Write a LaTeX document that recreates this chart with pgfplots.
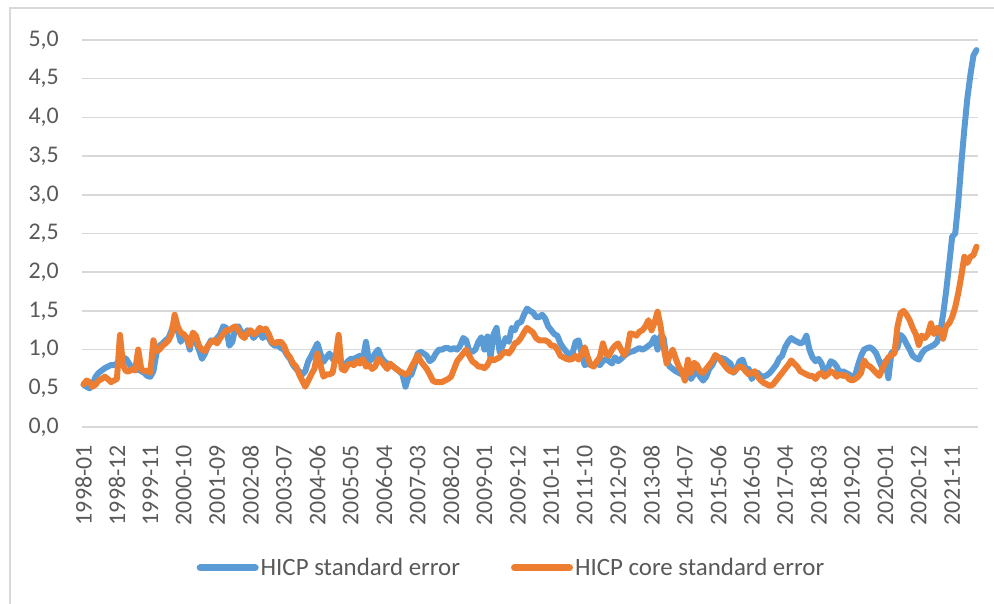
\documentclass[border=0pt]{standalone}
\usepackage{fontspec}
\setmainfont{Carlito}
\usepackage{pgfplots}
\usepackage{pgfplotstable}
\pgfplotsset{compat=1.18}
\definecolor{sblue}{HTML}{5B9BD5}
\definecolor{sorange}{HTML}{ED7D31}
\definecolor{gridgray}{HTML}{D9D9D9}
\definecolor{labelgray}{HTML}{595959}

\pgfplotstableread[row sep=\\]{
b c\\
0.55 0.55\\ 0.52 0.60\\ 0.50 0.58\\ 0.55 0.52\\ 0.65 0.55\\ 0.70 0.60\\ 0.73 0.62\\ 0.76 0.65\\ 0.78 0.62\\ 0.80 0.58\\ 0.80 0.60\\ 0.82 0.62\\
0.85 1.19\\ 0.90 0.80\\ 0.88 0.72\\ 0.82 0.72\\ 0.75 0.75\\ 0.73 0.73\\ 0.75 1.00\\ 0.72 0.75\\ 0.70 0.72\\ 0.66 0.73\\ 0.65 0.70\\ 0.72 1.12\\
0.95 0.98\\ 1.05 1.00\\ 1.08 1.05\\ 1.12 1.08\\ 1.15 1.12\\ 1.25 1.20\\ 1.38 1.45\\ 1.25 1.30\\ 1.10 1.22\\ 1.18 1.20\\ 1.15 1.15\\ 1.00 1.05\\
1.20 1.22\\ 1.10 1.18\\ 1.00 1.05\\ 0.88 1.00\\ 0.95 0.98\\ 1.05 1.05\\ 1.12 1.10\\ 1.10 1.12\\ 1.15 1.08\\ 1.20 1.15\\ 1.30 1.20\\ 1.28 1.25\\
1.05 1.25\\ 1.10 1.28\\ 1.28 1.30\\ 1.30 1.25\\ 1.22 1.18\\ 1.20 1.15\\ 1.25 1.22\\ 1.22 1.25\\ 1.15 1.20\\ 1.20 1.22\\ 1.22 1.28\\ 1.15 1.25\\
1.20 1.27\\ 1.15 1.20\\ 1.08 1.10\\ 1.05 1.08\\ 1.05 1.10\\ 1.02 1.10\\ 1.00 1.05\\ 0.93 0.95\\ 0.88 0.90\\ 0.80 0.82\\ 0.75 0.78\\ 0.72 0.68\\
0.68 0.60\\ 0.72 0.52\\ 0.85 0.60\\ 0.92 0.68\\ 1.00 0.75\\ 1.08 0.95\\ 0.95 0.80\\ 0.84 0.65\\ 0.90 0.68\\ 0.95 0.68\\ 0.88 0.70\\ 0.85 0.90\\
0.90 1.19\\ 0.82 0.75\\ 0.80 0.73\\ 0.85 0.80\\ 0.88 0.82\\ 0.88 0.80\\ 0.90 0.85\\ 0.92 0.82\\ 0.88 0.88\\ 1.10 0.78\\ 0.85 0.80\\ 0.88 0.75\\
0.95 0.78\\ 1.00 0.88\\ 0.90 0.85\\ 0.85 0.80\\ 0.82 0.75\\ 0.80 0.82\\ 0.78 0.78\\ 0.75 0.75\\ 0.72 0.72\\ 0.68 0.70\\ 0.52 0.68\\ 0.65 0.70\\
0.68 0.78\\ 0.80 0.85\\ 0.95 0.93\\ 0.97 0.85\\ 0.95 0.80\\ 0.92 0.75\\ 0.85 0.68\\ 0.88 0.60\\ 0.95 0.58\\ 1.00 0.58\\ 1.00 0.58\\ 1.02 0.60\\
1.02 0.62\\ 1.00 0.65\\ 1.02 0.75\\ 1.00 0.85\\ 1.05 0.90\\ 1.15 0.95\\ 1.12 1.00\\ 0.98 0.92\\ 0.97 0.85\\ 1.00 0.82\\ 1.10 0.78\\ 1.16 0.78\\
1.00 0.76\\ 1.17 0.80\\ 0.90 0.88\\ 1.20 0.86\\ 1.28 0.88\\ 0.97 0.90\\ 1.05 0.95\\ 1.15 0.97\\ 1.10 0.95\\ 1.28 1.00\\ 1.25 1.08\\ 1.35 1.10\\
1.35 1.15\\ 1.45 1.22\\ 1.53 1.28\\ 1.50 1.25\\ 1.48 1.22\\ 1.42 1.15\\ 1.42 1.12\\ 1.45 1.12\\ 1.40 1.12\\ 1.30 1.10\\ 1.25 1.05\\ 1.20 1.05\\
1.18 1.00\\ 1.08 0.92\\ 1.02 0.90\\ 0.97 0.88\\ 0.93 0.87\\ 0.95 0.88\\ 1.10 0.92\\ 1.12 0.87\\ 0.95 0.95\\ 0.80 1.03\\ 0.82 0.90\\ 0.80 0.80\\
0.80 0.78\\ 0.82 0.85\\ 0.80 0.90\\ 0.85 1.08\\ 0.88 0.95\\ 0.85 0.92\\ 0.82 1.00\\ 0.90 1.05\\ 0.85 1.08\\ 0.88 1.00\\ 0.92 0.93\\ 0.95 1.00\\
0.97 1.21\\ 0.98 1.20\\ 1.00 1.18\\ 1.02 1.23\\ 1.00 1.25\\ 1.02 1.30\\ 1.05 1.38\\ 1.08 1.25\\ 1.16 1.35\\ 1.00 1.49\\ 1.18 1.30\\ 1.15 1.03\\
0.85 0.82\\ 0.78 0.92\\ 0.75 1.00\\ 0.72 0.88\\ 0.70 0.78\\ 0.68 0.72\\ 0.65 0.60\\ 0.72 0.87\\ 0.62 0.70\\ 0.68 0.83\\ 0.72 0.80\\ 0.65 0.72\\
0.60 0.70\\ 0.65 0.75\\ 0.75 0.80\\ 0.80 0.85\\ 0.88 0.93\\ 0.90 0.90\\ 0.89 0.85\\ 0.88 0.80\\ 0.85 0.75\\ 0.82 0.72\\ 0.70 0.71\\ 0.75 0.75\\
0.85 0.78\\ 0.87 0.77\\ 0.75 0.72\\ 0.75 0.68\\ 0.62 0.70\\ 0.68 0.72\\ 0.70 0.65\\ 0.66 0.60\\ 0.65 0.57\\ 0.67 0.55\\ 0.70 0.53\\ 0.75 0.55\\
0.80 0.60\\ 0.88 0.65\\ 0.92 0.70\\ 1.03 0.75\\ 1.10 0.80\\ 1.15 0.86\\ 1.12 0.82\\ 1.10 0.78\\ 1.08 0.72\\ 1.10 0.70\\ 1.18 0.68\\ 1.00 0.66\\
0.90 0.66\\ 0.85 0.62\\ 0.88 0.68\\ 0.82 0.70\\ 0.70 0.65\\ 0.75 0.68\\ 0.85 0.72\\ 0.83 0.70\\ 0.78 0.65\\ 0.70 0.68\\ 0.72 0.66\\ 0.70 0.67\\
0.68 0.62\\ 0.65 0.60\\ 0.66 0.62\\ 0.80 0.65\\ 0.92 0.70\\ 1.00 0.86\\ 1.02 0.80\\ 1.03 0.78\\ 1.00 0.74\\ 0.95 0.70\\ 0.85 0.66\\ 0.76 0.75\\
0.85 0.83\\ 0.63 0.90\\ 0.96 0.93\\ 0.98 0.95\\ 1.03 1.30\\ 1.19 1.47\\ 1.15 1.50\\ 1.07 1.45\\ 1.00 1.38\\ 0.92 1.28\\ 0.89 1.20\\ 0.87 1.06\\
0.95 1.18\\ 1.00 1.15\\ 1.02 1.20\\ 1.04 1.34\\ 1.06 1.20\\ 1.10 1.28\\ 1.22 1.25\\ 1.45 1.14\\ 1.75 1.30\\ 2.10 1.34\\ 2.46 1.42\\ 2.50 1.55\\
2.90 1.73\\ 3.40 1.95\\ 3.85 2.20\\ 4.25 2.12\\ 4.55 2.20\\ 4.80 2.22\\ 4.87 2.33\\
}\datatable

\begin{document}
\begin{tikzpicture}
\path[use as bounding box] (0,0) rectangle (994bp,604bp);
\draw[gridgray, line width=1.2bp] (10bp,0) -- (10bp,596bp) -- (994bp,596bp);
\begin{axis}[
  at={(82bp,177bp)}, anchor=south west,
  scale only axis, width=896bp, height=387bp,
  xmin=-0.5, xmax=294.5, ymin=0, ymax=5,
  axis line style={draw=none},
  tick style={draw=none},
  ymajorgrids, grid style={draw=gridgray, line width=1.5bp},
  ytick={0,0.5,1,1.5,2,2.5,3,3.5,4,4.5,5},
  yticklabels={{0,0},{0,5},{1,0},{1,5},{2,0},{2,5},{3,0},{3,5},{4,0},{4,5},{5,0}},
  xtick={0,11,...,286},
  xticklabels={1998-01,1998-12,1999-11,2000-10,2001-09,2002-08,2003-07,2004-06,2005-05,2006-04,2007-03,2008-02,2009-01,2009-12,2010-11,2011-10,2012-09,2013-08,2014-07,2015-06,2016-05,2017-04,2018-03,2019-02,2020-01,2020-12,2021-11},
  x tick label style={rotate=90, anchor=east, inner sep=0pt, font=\fontsize{24}{28}\selectfont, text=labelgray},
  y tick label style={anchor=east, inner sep=0pt, font=\fontsize{24}{28}\selectfont, text=labelgray},
  xticklabel shift=18bp,
  yticklabel shift=23bp,
  legend columns=2,
  legend style={at={(axis description cs:0.128,-0.364)}, anchor=west, draw=none, fill=none,
    inner sep=0pt, outer sep=0pt,
    font=\fontsize{25}{29}\selectfont, text=labelgray,
    /tikz/every even column/.append style={column sep=49bp}},
  legend image code/.code={\draw[#1, line width=7bp] (0bp,0bp) -- (55bp,0bp);},
  clip=false,
]
\addplot[sblue, line width=6bp, line join=round, line cap=round] table[x expr=\coordindex, y=b] {\datatable};
\addlegendentry{HICP standard error}
\addplot[sorange, line width=6bp, line join=round, line cap=round] table[x expr=\coordindex, y=c] {\datatable};
\addlegendentry{HICP core standard error}
\end{axis}
\end{tikzpicture}
\end{document}
